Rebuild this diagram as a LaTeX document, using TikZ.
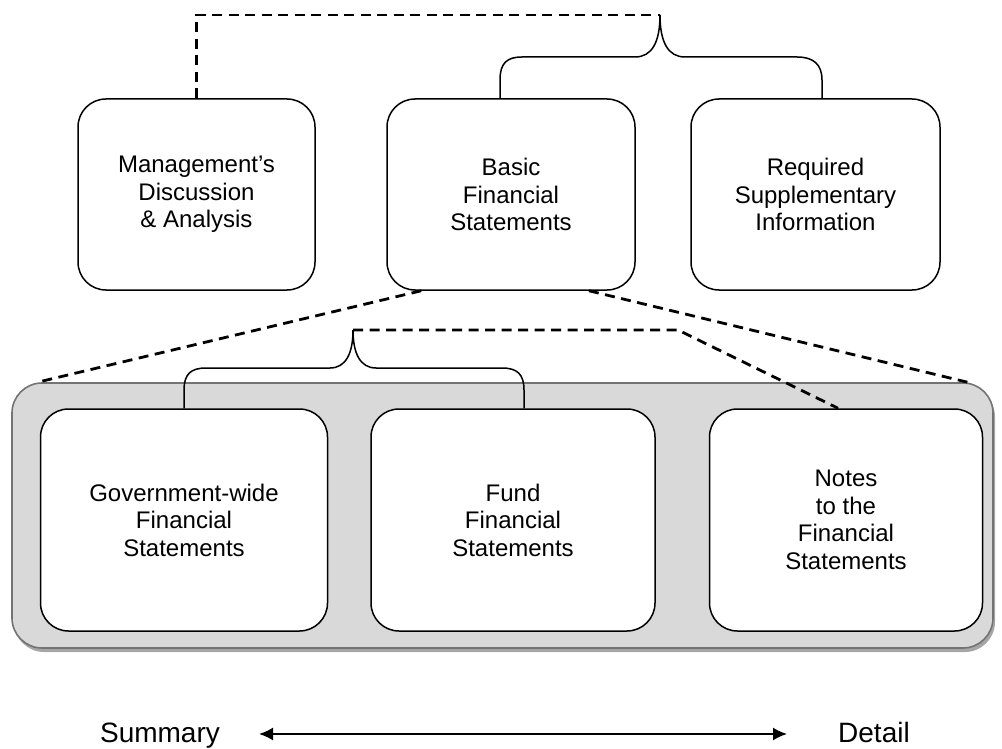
\documentclass[tikz,border=0pt]{standalone}
\usepackage{fontspec}
\setmainfont{Liberation Sans}
\usepackage{xcolor}
\usepackage{tikz}
\usetikzlibrary{arrows.meta,shadows}

\begin{document}
\begin{tikzpicture}[x=1pt,y=-1pt,
  box/.style={rectangle, rounded corners=28pt, draw, line width=1.5pt, fill=white, align=center, inner sep=0pt, font=\fontsize{24}{27.5}\selectfont},
  dashline/.style={line width=2.8pt, dash pattern=on 10pt off 6.5pt},
  brace/.style={line width=1.5pt}]
\useasboundingbox (0,0) rectangle (1002,749);
% grey panel round the three statements
\node at (502.5,515.5) [rectangle, rounded corners=30pt, minimum width=981pt, minimum height=265pt, draw=black!55, line width=1.6pt, fill=black!15, drop shadow={shadow xshift=2pt, shadow yshift=-4pt, fill=black!35, opacity=1}] (panel) {};
\node at (196.5,194.5) [box, minimum width=237pt, minimum height=191pt] (mda) {Management’s\\Discussion\\\& Analysis};
\node at (511,194.5) [box, minimum width=248pt, minimum height=191pt] (basic) {Basic\\Financial\\Statements};
\node at (815.5,194.5) [box, minimum width=249pt, minimum height=191pt] (rsi) {Required\\Supplementary\\Information};
\node at (184,520) [box, minimum width=287pt, minimum height=222pt] (govwide) {Government-wide\\Financial\\Statements};
\node at (513,520) [box, minimum width=284pt, minimum height=222pt] (fund) {Fund\\Financial\\Statements};
\node at (846,520) [box, minimum width=273pt, minimum height=222pt] (notes) {Notes\\to the\\Financial\\Statements};
\node at (160,742) [anchor=base, font=\fontsize{28}{32}\selectfont] (summary) {Summary};
\node at (874,742) [anchor=base, font=\fontsize{28}{32}\selectfont] (detail) {Detail};
\coordinate (toptip) at (660,15);
\coordinate (lowtip) at (353,330);
\coordinate (bend) at (678,330);
\coordinate (arrl) at (259,734);
\coordinate (arrr) at (787,734);
% braces
\draw[brace] ([xshift=-11pt]basic.north) -- (500,80) .. controls (500,63) and (507,57) .. (522,57) -- (635,57) .. controls (652,57) and (660,42) .. (toptip) .. controls (660,42) and (668,57) .. (685,57) -- (797,57) .. controls (813,57) and (822,64) .. (822,80) -- ([xshift=6.5pt]rsi.north);
\draw[brace] (govwide.north) -- (184,390) .. controls (184,374) and (191,368) .. (206,368) -- (330,368) .. controls (346,368) and (353,353) .. (lowtip) .. controls (353,353) and (360,368) .. (376,368) -- (502,368) .. controls (517,368) and (524,374) .. (524,390) -- ([xshift=11pt]fund.north);
% dashed links
\draw[dashline] (mda.north) |- (toptip);
\draw[dashline] (lowtip) -- (bend) -- ([xshift=-8pt]notes.north);
\draw[dashline] (basic.-133) -- (panel.164);
\draw[dashline] (basic.-51) -- (panel.16);
% summary to detail
\draw[{Latex[length=14pt,width=13pt]}-{Latex[length=14pt,width=13pt]}, line width=1.8pt] (arrl) -- (arrr);
\end{tikzpicture}
\end{document}
